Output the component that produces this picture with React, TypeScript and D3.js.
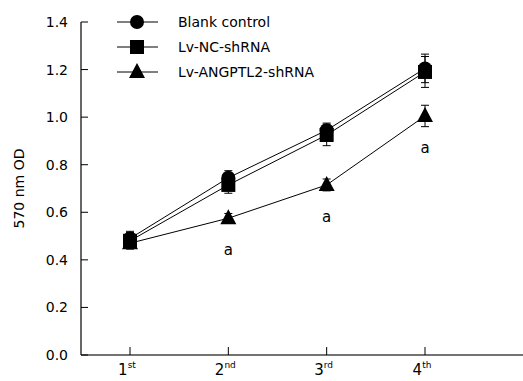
import React, { useEffect, useRef } from 'react';
import * as d3 from 'd3';

const weeks = [1, 2, 3, 4];
const weekLabels = [['1', 'st'], ['2', 'nd'], ['3', 'rd'], ['4', 'th']];
const seriesNames = ['Blank control', 'Lv-NC-shRNA', 'Lv-ANGPTL2-shRNA'];
const blankValues = [0.49, 0.745, 0.945, 1.205];
const blankErrors = [0.03, 0.03, 0.03, 0.06];
const ncValues = [0.48, 0.715, 0.925, 1.19];
const ncErrors = [0.035, 0.035, 0.045, 0.065];
const angValues = [0.47, 0.575, 0.715, 1.005];
const angErrors = [0.01, 0.02, 0.025, 0.045];
const yTicks = [0, 0.2, 0.4, 0.6, 0.8, 1.0, 1.2, 1.4];
const sigMarks = [false, true, true, true];

const FONT = 'DejaVu Sans, Verdana, sans-serif';

const App: React.FC = () => {
  const svgRef = useRef<SVGSVGElement>(null);

  useEffect(() => {
    if (!svgRef.current) return;
    const svg = d3.select(svgRef.current);
    svg.selectAll('*').remove();

    const x = d3.scaleLinear().domain([1, 4]).range([130, 425]);
    const y = d3.scaleLinear().domain([0, 1.4]).range([355, 22]);
    const axisLeft = 81;
    const axisRight = 523;

    const g = svg.append('g');

    // axes
    g.append('line').attr('x1', axisLeft).attr('x2', axisLeft)
      .attr('y1', y(1.4)).attr('y2', y(0)).attr('stroke', '#000').attr('stroke-width', 1.2);
    g.append('line').attr('x1', axisLeft).attr('x2', axisRight)
      .attr('y1', y(0)).attr('y2', y(0)).attr('stroke', '#444').attr('stroke-width', 1.5);

    yTicks.forEach(t => {
      g.append('line').attr('x1', axisLeft).attr('x2', axisLeft + 7)
        .attr('y1', y(t)).attr('y2', y(t)).attr('stroke', '#000');
      g.append('text').attr('x', 68).attr('y', y(t) + 5)
        .attr('text-anchor', 'end').attr('font-family', FONT).attr('font-size', 14)
        .text(t.toFixed(1));
    });

    weeks.forEach((w, i) => {
      g.append('line').attr('x1', x(w)).attr('x2', x(w))
        .attr('y1', y(0)).attr('y2', y(0) - 8).attr('stroke', '#000');
      const t = g.append('text').attr('x', x(w) - 3).attr('y', 375)
        .attr('text-anchor', 'middle').attr('font-family', FONT).attr('font-size', 15);
      t.append('tspan').text(weekLabels[i][0]);
      t.append('tspan').attr('font-size', 9).attr('dy', -7).text(weekLabels[i][1]);
    });

    g.append('text')
      .attr('transform', `translate(24,${(y(0) + y(1.4)) / 2}) rotate(-90)`)
      .attr('text-anchor', 'middle').attr('font-family', FONT).attr('font-size', 14)
      .text('570 nm OD');

    const all = [
      { values: blankValues, errors: blankErrors, shape: 'circle' },
      { values: ncValues, errors: ncErrors, shape: 'square' },
      { values: angValues, errors: angErrors, shape: 'triangle' },
    ];

    const drawMarker = (sel: d3.Selection<SVGGElement, unknown, null, undefined>, shape: string, cx: number, cy: number) => {
      if (shape === 'circle') {
        sel.append('circle').attr('cx', cx).attr('cy', cy).attr('r', 7).attr('fill', '#000');
      } else if (shape === 'square') {
        sel.append('rect').attr('x', cx - 7).attr('y', cy - 7).attr('width', 14).attr('height', 14).attr('fill', '#000');
      } else {
        sel.append('path').attr('d', `M${cx},${cy - 9}L${cx + 8},${cy + 6}L${cx - 8},${cy + 6}Z`).attr('fill', '#000');
      }
    };

    const line = d3.line<number>().x((d, i) => x(weeks[i])).y(d => y(d));

    all.forEach(s => {
      g.append('path').attr('d', line(s.values)).attr('fill', 'none')
        .attr('stroke', '#000').attr('stroke-width', 1);
    });

    all.forEach(s => {
      const sg = g.append('g');
      s.values.forEach((v, i) => {
        const cx = x(weeks[i]);
        const top = y(v + s.errors[i]);
        const bot = y(v - s.errors[i]);
        sg.append('line').attr('x1', cx).attr('x2', cx).attr('y1', top).attr('y2', bot).attr('stroke', '#000');
        sg.append('line').attr('x1', cx - 4).attr('x2', cx + 4).attr('y1', top).attr('y2', top).attr('stroke', '#000');
        sg.append('line').attr('x1', cx - 4).attr('x2', cx + 4).attr('y1', bot).attr('y2', bot).attr('stroke', '#000');
      });
      s.values.forEach((v, i) => drawMarker(sg, s.shape, x(weeks[i]), y(v)));
    });

    // significance marks
    angValues.forEach((v, i) => {
      if (!sigMarks[i]) return;
      g.append('text').attr('x', x(weeks[i])).attr('y', y(v) + 37)
        .attr('text-anchor', 'middle').attr('font-family', FONT).attr('font-size', 15)
        .text('a');
    });

    // legend
    all.forEach((s, i) => {
      const ly = 22 + i * 25;
      const lg = g.append('g');
      lg.append('line').attr('x1', 117).attr('x2', 158).attr('y1', ly).attr('y2', ly).attr('stroke', '#000');
      drawMarker(lg, s.shape, 137, ly);
      lg.append('text').attr('x', 178).attr('y', ly + 5).attr('font-family', FONT).attr('font-size', 14)
        .text(seriesNames[i]);
    });
  }, []);

  return (
    <svg ref={svgRef} width={523} height={381}
      style={{ position: 'absolute', left: 0, top: 0, background: '#fff' }} />
  );
};

export default App;
